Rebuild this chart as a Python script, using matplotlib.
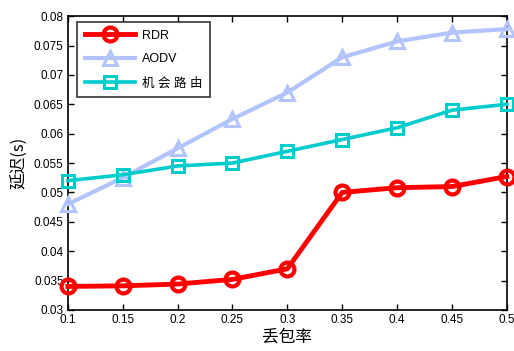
import matplotlib
matplotlib.use('Agg')
import matplotlib.pyplot as plt

plt.rcParams['font.family'] = ['Liberation Sans', 'Noto Sans CJK SC', 'DejaVu Sans']

# ── Data ─────────────────────────────────────────────────────────────────────
loss = [0.1, 0.15, 0.2, 0.25, 0.3, 0.35, 0.4, 0.45, 0.5]
rdr  = [0.0340, 0.0341, 0.0344, 0.0352, 0.0370, 0.0500, 0.0508, 0.0510, 0.0527]
aodv = [0.0480, 0.0525, 0.0575, 0.0625, 0.0670, 0.0730, 0.0757, 0.0772, 0.0778]
opp  = [0.0520, 0.0530, 0.0545, 0.0550, 0.0570, 0.0590, 0.0610, 0.0640, 0.0650]

xticks = [0.1, 0.15, 0.2, 0.25, 0.3, 0.35, 0.4, 0.45, 0.5]
xtick_labels = ['0.1', '0.15', '0.2', '0.25', '0.3', '0.35', '0.4', '0.45', '0.5']
yticks = [0.03, 0.035, 0.04, 0.045, 0.05, 0.055, 0.06, 0.065, 0.07, 0.075, 0.08]
ytick_labels = ['0.03', '0.035', '0.04', '0.045', '0.05', '0.055',
                '0.06', '0.065', '0.07', '0.075', '0.08']

fig = plt.figure(figsize=(5.14, 3.51), dpi=100)
ax = fig.add_axes([0.132, 0.117, 0.854, 0.837])

ax.plot(loss, rdr, 'o-', color='#ff0000', lw=3.5, ms=10, mfc='none',
        mew=3, label='RDR', clip_on=False, zorder=4)
ax.plot(loss, aodv, '^-', color='#b3c3fb', lw=3, ms=10, mfc='none',
        mew=2.2, label='AODV', clip_on=False, zorder=3)
ax.plot(loss, opp, 's-', color='#00cccc', lw=2.6, ms=8, mfc='none',
        mew=2.2, label='机 会 路 由', clip_on=False, zorder=3)

ax.set_xlim(0.1, 0.5)
ax.set_ylim(0.03, 0.08)
ax.set_xticks(xticks)
ax.set_xticklabels(xtick_labels)
ax.set_yticks(yticks)
ax.set_yticklabels(ytick_labels)
ax.tick_params(direction='in', top=True, right=True, labelsize=8.5,
               length=4, width=1, pad=3)
for s in ax.spines.values():
    s.set_linewidth(1.2)

ax.set_xlabel('丢包率', fontsize=12, family=['Noto Sans CJK SC'], labelpad=2)
ax.set_ylabel('延迟(s)', fontsize=12, family=['Noto Sans CJK SC', 'Liberation Sans'],
              labelpad=4)

leg = ax.legend(loc='upper left', fontsize=9, frameon=True, fancybox=False,
                edgecolor='black', handlelength=4.0, handletextpad=0.6,
                borderpad=0.6, labelspacing=0.95, borderaxespad=0,
                bbox_to_anchor=(0.021, 0.98))
leg.get_frame().set_linewidth(1.2)

fig.savefig('out.png', dpi=100, facecolor='white')
